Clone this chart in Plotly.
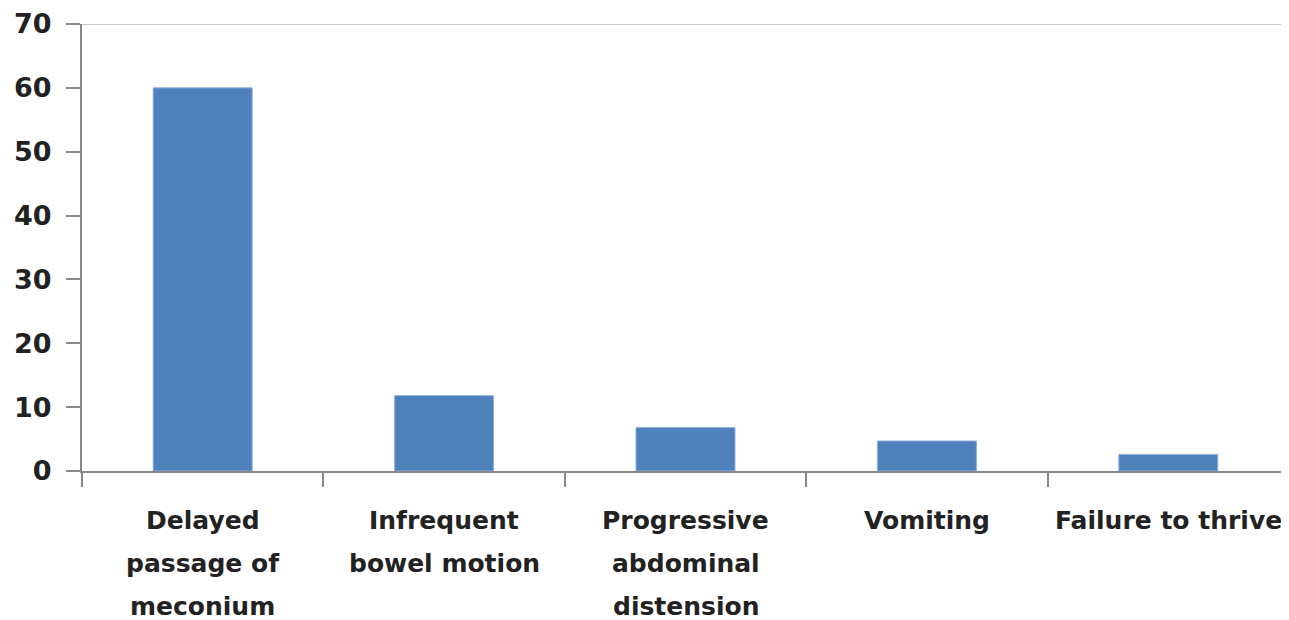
import plotly.graph_objects as go

categories = ["Delayed passage of meconium", "Infrequent bowel motion",
              "Progressive abdominal distension", "Vomiting", "Failure to thrive"]
label_lines = [["Delayed", "passage of", "meconium"],
               ["Infrequent", "bowel motion"],
               ["Progressive", "abdominal", "distension"],
               ["Vomiting"],
               ["Failure to thrive"]]
values = [60, 11.8, 6.8, 4.7, 2.6]
y_ticks = [0, 10, 20, 30, 40, 50, 60, 70]

FONT = "DejaVu Sans"
TXT = "#222222"
AX = "#888888"

fig = go.Figure(go.Bar(
    x=categories, y=values, width=0.41,
    marker=dict(color="#4F81BD", line=dict(color="#8EB0DA", width=1)),
))

annotations = []
for cat, lines in zip(categories, label_lines):
    for i, ln in enumerate(lines):
        annotations.append(dict(
            x=cat, xref="x", y=0, yref="paper", yanchor="middle",
            yshift=-49 - 43 * i, text=ln, showarrow=False,
            font=dict(family=FONT, size=25, color=TXT, weight="bold"),
        ))

fig.update_layout(
    width=1281, height=612,
    margin=dict(l=74, r=0, t=16, b=149, autoexpand=False),
    paper_bgcolor="white", plot_bgcolor="white",
    showlegend=False,
    bargap=0.59,
    annotations=annotations,
    shapes=[dict(type="line", xref="paper", yref="y", x0=0, x1=1, y0=70, y1=70,
                 line=dict(color="#c8c8c8", width=2))],
    xaxis=dict(
        type="category", showticklabels=False, tickson="boundaries",
        ticks="outside", ticklen=14, tickwidth=2, tickcolor=AX,
        showline=True, linecolor=AX, linewidth=2, showgrid=False,
        zeroline=False, automargin=False,
    ),
    yaxis=dict(
        range=[0, 70], tickvals=y_ticks, ticks="outside", ticklen=14,
        tickwidth=2, tickcolor=AX, showline=True, linecolor=AX, linewidth=2,
        showgrid=False, zeroline=False, automargin=False,
        ticklabelstandoff=9,
        tickfont=dict(family=FONT, size=27, color=TXT, weight="bold"),
    ),
)

fig.write_html("out.html")
